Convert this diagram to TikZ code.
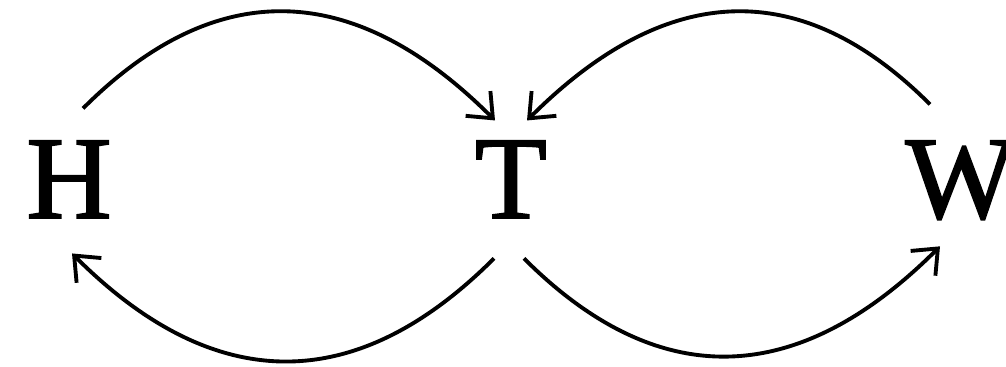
\documentclass[tikz,border=0pt]{standalone}
\usepackage{fontspec}
\newfontfamily\letterfont[FakeBold=1.6]{Liberation Serif}
\usetikzlibrary{arrows.meta,calc}

\begin{document}
\begin{tikzpicture}[
  letter/.style={inner sep=0pt, anchor=base, font=\letterfont\fontsize{67}{70}\selectfont},
  arr/.style={-{Straight Barb[length=4.2mm, width=7mm]}, line width=2.2pt, looseness=1.2}
]
  \clip (0,0) rectangle (20.12,7.34);
  \node[letter] (h) at (1.38, 2.98) {H};
  \node[letter] (t) at (10.22, 2.98) {T};
  \node[letter] (w) at (19.22, 2.98) {W};
  % upper arcs into T
  \draw[arr] ($(h.center)+(0.28,1.42)$) to[out=45, in=135] ($(t.center)+(-0.32,1.18)$);
  \draw[arr] ($(w.center)+(-0.62,1.52)$) to[out=135, in=45] ($(t.center)+(0.32,1.18)$);
  % lower arcs out of T
  \draw[arr] ($(t.center)+(-0.34,-1.58)$) to[out=225, in=-45] ($(h.center)+(0.06,-1.48)$);
  \draw[arr] ($(t.center)+(0.26,-1.58)$) to[out=-45, in=225] ($(w.center)+(-0.42,-1.32)$);
\end{tikzpicture}
\end{document}
